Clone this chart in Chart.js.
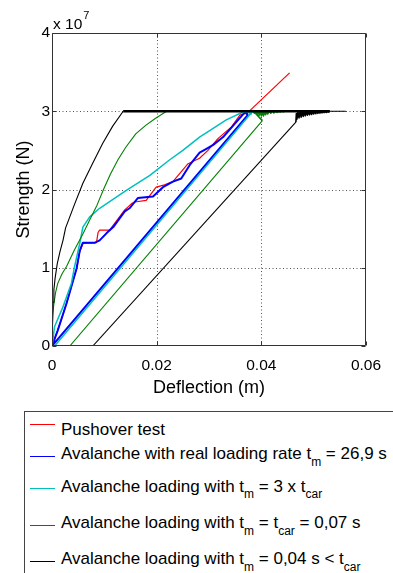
<!DOCTYPE html>
<html>
<head>
<meta charset="utf-8">
<script src="https://cdn.jsdelivr.net/npm/chart.js@4.4.1/dist/chart.umd.min.js"></script>
<style>
  html, body { margin: 0; padding: 0; background: #fff; }
  body { width: 393px; height: 573px; overflow: hidden; position: relative;
         font-family: "Liberation Sans", Arial, Helvetica, sans-serif; color: #000; }
  #chart { position: absolute; left: 0; top: 0; }
  .exp { position: absolute; left: 53px; top: 15px; font-size: 15.5px; line-height: 18px; white-space: nowrap; }
  .exp sup { position: relative; top: -10px; font-size: 11px; line-height: 0; vertical-align: baseline; margin-left: 1px; }
  .legend { position: absolute; left: 24px; top: 411px; width: 400px; height: 200px;
            border: 1px solid #444; box-sizing: border-box; }
  .row { position: absolute; left: 36px; font-size: 17px; line-height: 20px; white-space: nowrap; }
  .row .s { position: relative; top: 6.5px; font-size: 12px; line-height: 0; }
  .swatch { position: absolute; left: 5px; width: 25px; height: 0; border-top: 1.2px solid; }
</style>
</head>
<body>
<canvas id="chart" width="393" height="400"></canvas>
<div class="exp">x 10<sup>7</sup></div>
<div class="legend" id="legend"></div>

<script>
// tick values
const xTicks = [0, 0.02, 0.04, 0.06];
const yTicks = [0, 1, 2, 3, 4]; // x 10^7 N

// Pushover test
const redX = [0, 0.0011, 0.0028, 0.0037, 0.0047, 0.0053, 0.0059, 0.0085, 0.0088, 0.0091, 0.0110, 0.0129, 0.0139, 0.0152, 0.0158, 0.0180, 0.0199, 0.0215, 0.0231, 0.0260, 0.0282, 0.0298, 0.0317, 0.0343, 0.0359, 0.0368, 0.0372, 0.0454];
const redY = [0, 0.20, 0.55, 0.76, 0.99, 1.20, 1.31, 1.32, 1.45, 1.48, 1.48, 1.65, 1.74, 1.82, 1.84, 1.86, 2.03, 2.06, 2.10, 2.33, 2.40, 2.50, 2.65, 2.80, 2.95, 2.97, 2.97, 3.49];

// real loading rate
const blueX = [0, 0.0011, 0.0028, 0.0037, 0.0047, 0.0053, 0.0059, 0.0082, 0.0091, 0.0104, 0.0117, 0.0139, 0.0148, 0.0164, 0.0193, 0.0212, 0.0231, 0.0247, 0.0263, 0.0282, 0.0295, 0.0308, 0.0327, 0.0352, 0.0365, 0.0370, 0.0374, 0];
const blueY = [0, 0.20, 0.55, 0.76, 0.99, 1.22, 1.32, 1.32, 1.35, 1.44, 1.52, 1.72, 1.76, 1.89, 1.91, 2.03, 2.10, 2.14, 2.31, 2.47, 2.52, 2.57, 2.67, 2.86, 2.96, 2.99, 2.95, 0];

// tm = 3 x tcar
const cyanX = [0, 0.0005, 0.0021, 0.0037, 0.0043, 0.0053, 0.0059, 0.0072, 0.0091, 0.0142, 0.0187, 0.0225, 0.0250, 0.0282, 0.0333, 0.0365, 0.0390, 0.0386, 0.0383, 0.0380, 0.0378, 0.0377, 0.0005];
const cyanY = [0, 0.25, 0.50, 0.80, 1.01, 1.31, 1.52, 1.65, 1.76, 1.99, 2.18, 2.38, 2.50, 2.67, 2.89, 2.99, 3.0, 2.98, 3.0, 2.96, 2.99, 2.95, 0];

// tm = tcar
const greenX = [0, 0.0001, 0.0003, 0.0007, 0.0011, 0.0019, 0.0028, 0.0043, 0.0059, 0.0072, 0.0086, 0.0099, 0.0112, 0.0126, 0.0141, 0.0160, 0.0179, 0.0198, 0.0219,
  0.0445, 0.0442, 0.0439, 0.0436, 0.0433, 0.0430, 0.0427, 0.0424, 0.0421, 0.0418, 0.0415, 0.0412, 0.0410, 0.0408, 0.0406, 0.0404, 0.0402, 0.0400, 0.0398, 0.0396, 0.0394, 0.0392, 0.0390, 0.0387, 0.0385, 0.0402, 0.0034];
const greenY = [0, 0.27, 0.51, 0.69, 0.80, 0.92, 1.02, 1.23, 1.43, 1.61, 1.80, 2.01, 2.20, 2.38, 2.54, 2.71, 2.82, 2.91, 3.0,
  3.0, 2.995, 3.0, 2.99, 3.0, 2.985, 3.0, 2.98, 3.0, 2.975, 3.0, 2.965, 3.0, 2.955, 3.0, 2.94, 3.0, 2.94, 3.0, 2.95, 3.0, 2.96, 3.0, 2.975, 3.0, 2.88, 0];

// tm = 0.04 s
const blackX = [0, 0.00004, 0.0001, 0.0002, 0.00036, 0.0006, 0.0010, 0.0015, 0.0021, 0.0026, 0.0034, 0.0043, 0.0059, 0.0078, 0.0097, 0.0116, 0.0136, 0.0531, 0.0561,
  0.0530, 0.0528, 0.0526, 0.0524, 0.0522, 0.0520, 0.0518, 0.0516, 0.0514, 0.0512, 0.0510, 0.0508, 0.0506, 0.0504, 0.0502, 0.0500, 0.0498, 0.0496, 0.0494, 0.0492, 0.0490,
  0.0488, 0.0486, 0.0484, 0.0482, 0.0480, 0.0478, 0.0476, 0.0474, 0.0472, 0.0470, 0.0468, 0.0467, 0.0466, 0.0078];
const blackY = [0, 0.20, 0.38, 0.56, 0.72, 0.87, 1.05, 1.20, 1.35, 1.51, 1.65, 1.81, 2.08, 2.34, 2.59, 2.81, 3.0, 3.0, 3.0,
  3.0, 2.990, 3.0, 2.985, 3.0, 2.983, 3.0, 2.980, 3.0, 2.977, 3.0, 2.973, 3.0, 2.970, 3.0, 2.965, 3.0, 2.960, 3.0, 2.955, 3.0,
  2.950, 3.0, 2.942, 3.0, 2.935, 3.0, 2.925, 3.0, 2.915, 2.99, 2.90, 2.97, 2.86, 0];

const FONT = '"Liberation Sans", Arial, Helvetica, sans-serif';

function pts(xs, ys) {
  return xs.map((x, i) => ({ x: x, y: ys[i] }));
}

// plateau / oscillation index ranges, for line widths
const blackPlateau = blackX.indexOf(0.0136);
const blackNoiseFrom = blackX.indexOf(0.0561);
const blackNoiseTo = blackX.indexOf(0.0466);
const greenNoiseFrom = greenX.indexOf(0.0445);
const greenNoiseTo = greenX.length - 3;

const series = [
  { label: 'Pushover test', xs: redX, ys: redY, color: '#ff0000', width: 1.2, order: 5 },
  { label: 'Avalanche with real loading rate', xs: blueX, ys: blueY, color: '#0000ff', width: 2, order: 4 },
  { label: 'Avalanche loading with tm = 3 x tcar', xs: cyanX, ys: cyanY, color: '#00bfbf', width: 1.5, order: 3 },
  { label: 'Avalanche loading with tm = tcar', xs: greenX, ys: greenY, color: '#008000', width: 1.1, order: 2,
    segWidth: i => (i >= greenNoiseFrom && i <= greenNoiseTo ? 1.6 : 1.1) },
  { label: 'Avalanche loading with tm = 0.04 s', xs: blackX, ys: blackY, color: '#000000', width: 1.1, order: 1,
    segWidth: i => {
      if (i === blackPlateau) return 2.6;
      if (i > blackNoiseFrom && i < blackNoiseTo) return 1.6;
      return 1.1;
    } },
];

const framePlugin = {
  id: 'frame',
  beforeDatasetsDraw(chart) {
    const { ctx, chartArea: a, scales: { x, y } } = chart;
    ctx.save();
    ctx.strokeStyle = '#555';
    ctx.lineWidth = 1;
    ctx.setLineDash([1, 2.5]);
    ctx.beginPath();
    xTicks.slice(1, -1).forEach(v => {
      const px = Math.round(x.getPixelForValue(v)) + 0.5;
      ctx.moveTo(px, a.top); ctx.lineTo(px, a.bottom);
    });
    yTicks.slice(1, -1).forEach(v => {
      const py = Math.round(y.getPixelForValue(v)) + 0.5;
      ctx.moveTo(a.left, py); ctx.lineTo(a.right, py);
    });
    ctx.stroke();
    ctx.restore();
  },
  afterDatasetsDraw(chart) {
    const { ctx, chartArea: a, scales: { x, y } } = chart;
    const L = a.left + 0.5, R = a.right - 0.5, T = a.top + 0.5, B = a.bottom - 0.5;
    ctx.save();
    ctx.strokeStyle = '#333';
    ctx.lineWidth = 1;
    ctx.beginPath();
    ctx.rect(L, T, R - L, B - T);
    xTicks.forEach(v => {
      const px = Math.round(x.getPixelForValue(v)) + 0.5;
      ctx.moveTo(px, B); ctx.lineTo(px, B - 4);
      ctx.moveTo(px, T); ctx.lineTo(px, T + 4);
    });
    yTicks.forEach(v => {
      const py = Math.round(y.getPixelForValue(v)) + 0.5;
      ctx.moveTo(L, py); ctx.lineTo(L + 4, py);
      ctx.moveTo(R, py); ctx.lineTo(R - 4, py);
    });
    ctx.stroke();
    ctx.restore();
  },
};

new Chart(document.getElementById('chart'), {
  type: 'scatter',
  data: {
    datasets: series.map(s => ({
      label: s.label,
      data: pts(s.xs, s.ys),
      showLine: true,
      borderColor: s.color,
      backgroundColor: s.color,
      borderWidth: s.width,
      borderJoinStyle: 'round',
      pointRadius: 0,
      tension: 0,
      order: s.order,
      segment: s.segWidth ? { borderWidth: c => s.segWidth(c.p0DataIndex) } : undefined,
    })),
  },
  options: {
    responsive: false,
    animation: false,
    devicePixelRatio: 1,
    layout: { padding: { top: 33, right: 27, left: 0, bottom: 0 } },
    plugins: { legend: { display: false }, tooltip: { enabled: false } },
    scales: {
      x: {
        type: 'linear',
        min: 0, max: 0.06,
        afterBuildTicks: s => { s.ticks = xTicks.map(v => ({ value: v })); },
        afterFit: s => { s.height = 54; },
        grid: { display: false, drawTicks: false },
        border: { display: false },
        ticks: {
          padding: 10,
          color: '#000',
          font: { family: FONT, size: 15.5 },
          callback: v => (v === 0 ? '0' : v.toFixed(2)),
          maxRotation: 0,
        },
        title: {
          display: true, text: 'Deflection (m)', color: '#000',
          font: { family: FONT, size: 18 },
          padding: { top: 0, bottom: 1.5 },
        },
      },
      y: {
        type: 'linear',
        min: 0, max: 4,
        afterBuildTicks: s => { s.ticks = yTicks.map(v => ({ value: v })); },
        afterFit: s => { s.width = 52; },
        grid: { display: false, drawTicks: false },
        border: { display: false },
        ticks: {
          padding: 2,
          color: '#000',
          font: { family: FONT, size: 15.5 },
          callback: v => String(v),
        },
        title: {
          display: true, text: 'Strength (N)', color: '#000',
          font: { family: FONT, size: 18 },
          padding: { top: 13.5, bottom: 0 },
        },
      },
    },
  },
  plugins: [framePlugin],
});

// legend with subscripts
const legendRows = [
  { color: '#ff0000', lineY: 425, base: 436, html: 'Pushover test' },
  { color: '#0000ff', lineY: 456.5, base: 460, html: 'Avalanche with real loading rate t<span class="s">m</span> = 26,9 s' },
  { color: '#00bfbf', lineY: 489, base: 492.5, html: 'Avalanche loading with t<span class="s">m</span> = 3 x t<span class="s">car</span>' },
  { color: '#008000', lineY: 526, base: 529, html: 'Avalanche loading with t<span class="s">m</span> = t<span class="s">car</span> = 0,07 s' },
  { color: '#000000', lineY: 561.5, base: 565, html: 'Avalanche loading with t<span class="s">m</span> = 0,04 s &lt; t<span class="s">car</span>' },
];
const legend = document.getElementById('legend');
const top0 = 412; // inner top of legend box
legendRows.forEach(r => {
  const sw = document.createElement('div');
  sw.className = 'swatch';
  sw.style.borderTopColor = r.color;
  sw.style.top = (r.lineY - top0 - 0.6) + 'px';
  legend.appendChild(sw);
  const row = document.createElement('div');
  row.className = 'row';
  row.style.top = (r.base - 15.9 - top0) + 'px';
  row.innerHTML = r.html;
  legend.appendChild(row);
});
</script>
</body>
</html>
